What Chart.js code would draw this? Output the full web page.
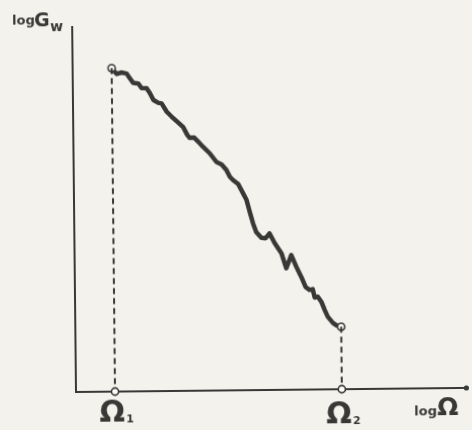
<!DOCTYPE html>
<html>
<head>
<meta charset="utf-8">
<script src="https://cdn.jsdelivr.net/npm/chart.js@4.4.0/dist/chart.umd.min.js"></script>
<style>
  html, body { margin: 0; padding: 0; background: #f3f2ed; }
  #wrap { position: relative; width: 472px; height: 430px; overflow: hidden; }
  #c { position: absolute; left: 0; top: 0; transform-origin: 76px 392px; transform: rotate(-0.6deg); }
</style>
</head>
<body>
<div id="wrap"><canvas id="c" width="472" height="430"></canvas></div>
<script>
// log Ω (x) and log G_w (y) (arbitrary log units)
const logOmega = [1.00,1.13,1.25,1.38,1.47,1.55,1.68,1.76,1.89,1.97,2.06,2.18,2.27,2.40,2.52,2.69,2.82,2.92,2.98,3.09,3.20,3.32,3.49,3.66,3.79,3.91,4.00,4.08,4.21,4.33,4.42,4.50,4.58,4.66,4.79,4.90,5.00,5.13,5.30,5.42,5.55,5.68,5.80,5.91,6.01,6.09,6.14,6.22,6.31,6.39,6.47,6.60,6.69,6.81];
const logGw = [8.86,8.70,8.74,8.71,8.57,8.45,8.43,8.31,8.30,8.17,7.98,7.90,7.88,7.65,7.52,7.35,7.22,7.01,6.93,6.94,6.82,6.68,6.50,6.26,6.19,6.04,5.85,5.76,5.65,5.40,5.21,4.88,4.57,4.33,4.17,4.16,4.29,4.02,3.74,3.33,3.69,3.36,3.09,2.81,2.73,2.75,2.52,2.54,2.40,2.18,1.99,1.82,1.75,1.71];
const OMEGA1 = 1.00;
const OMEGA2 = 6.81;
const AXIS_X_MAX = 10;
const AXIS_Y_MAX = 10;
const xLabel = ['log', 'Ω'];
const yLabel = ['log', 'G', 'w'];
const markLabels = [['Ω', '1'], ['Ω', '2']];

const INK = '#383836';
const curve = logOmega.map((x, i) => ({x, y: logGw[i]}));
const last = logGw.length - 1;

const drop1 = [{x: OMEGA1, y: logGw[0]}, {x: OMEGA1, y: 0}];
const drop2 = [{x: OMEGA2, y: logGw[last]}, {x: OMEGA2, y: 0}];

const labelsPlugin = {
  id: 'labels',
  afterDraw(chart) {
    const ctx = chart.ctx;
    const xs = chart.scales.x, ys = chart.scales.y;
    ctx.save();
    ctx.fillStyle = INK;
    ctx.textBaseline = 'alphabetic';
    // axis end dot
    ctx.beginPath();
    ctx.arc(xs.right, ys.bottom, 2.6, 0, Math.PI * 2);
    ctx.fill();
    // y label
    ctx.textAlign = 'left';
    ctx.font = 'bold 13px "DejaVu Sans"';
    ctx.fillText(yLabel[0], 16, 24);
    ctx.font = 'bold 19px "DejaVu Sans"';
    ctx.fillText(yLabel[1], 38, 26);
    ctx.font = 'bold 14px "DejaVu Sans"';
    ctx.fillText(yLabel[2], 54, 31);
    // omega marks
    const marks = [OMEGA1, OMEGA2];
    marks.forEach((m, i) => {
      const px = xs.getPixelForValue(m);
      ctx.textAlign = 'center';
      ctx.font = 'bold 30px "DejaVu Sans"';
      ctx.fillText(markLabels[i][0], px - 3, i === 0 ? 422 : 426);
      ctx.textAlign = 'left';
      ctx.font = 'bold 11px "DejaVu Sans"';
      ctx.fillText(markLabels[i][1], px + 11, i === 0 ? 423 : 427);
    });
    // x label
    ctx.textAlign = 'left';
    ctx.font = 'bold 13px "DejaVu Sans"';
    ctx.fillText(xLabel[0], 414, 419);
    ctx.font = 'bold 25px "DejaVu Sans"';
    ctx.fillText(xLabel[1], 437, 419);
    ctx.restore();
  }
};

const zeroFit = (scale) => {
  if (scale.isHorizontal()) scale.height = 0; else scale.width = 0;
};

new Chart(document.getElementById('c'), {
  type: 'scatter',
  data: {
    datasets: [
      { data: drop1, showLine: true, borderColor: INK, borderWidth: 2, borderDash: [6, 4],
        pointRadius: [0, 3.6], pointBackgroundColor: '#fbfbf8', pointBorderColor: INK, pointBorderWidth: 1.6, clip: false },
      { data: drop2, showLine: true, borderColor: INK, borderWidth: 2, borderDash: [6, 4],
        pointRadius: [0, 3.6], pointBackgroundColor: '#fbfbf8', pointBorderColor: INK, pointBorderWidth: 1.6, clip: false },
      { data: curve, showLine: true, borderColor: INK, borderWidth: 4.5, tension: 0,
        borderJoinStyle: 'round', borderCapStyle: 'round',
        pointRadius: curve.map((p, i) => (i === 0 || i === last) ? 3.6 : 0),
        pointBackgroundColor: '#fbfbf8', pointBorderColor: INK, pointBorderWidth: 1.6, clip: false }
    ]
  },
  options: {
    responsive: false,
    animation: false,
    layout: { padding: { left: 76, right: 5, top: 27, bottom: 38 } },
    plugins: { legend: { display: false }, tooltip: { enabled: false } },
    scales: {
      x: { type: 'linear', min: 0, max: AXIS_X_MAX, afterFit: zeroFit,
           grid: { display: false, drawTicks: false }, ticks: { display: false },
           border: { display: true, color: INK, width: 2 } },
      y: { type: 'linear', min: 0, max: AXIS_Y_MAX, afterFit: zeroFit,
           grid: { display: false, drawTicks: false }, ticks: { display: false },
           border: { display: true, color: INK, width: 2 } }
    }
  },
  plugins: [labelsPlugin]
});
</script>
</body>
</html>
